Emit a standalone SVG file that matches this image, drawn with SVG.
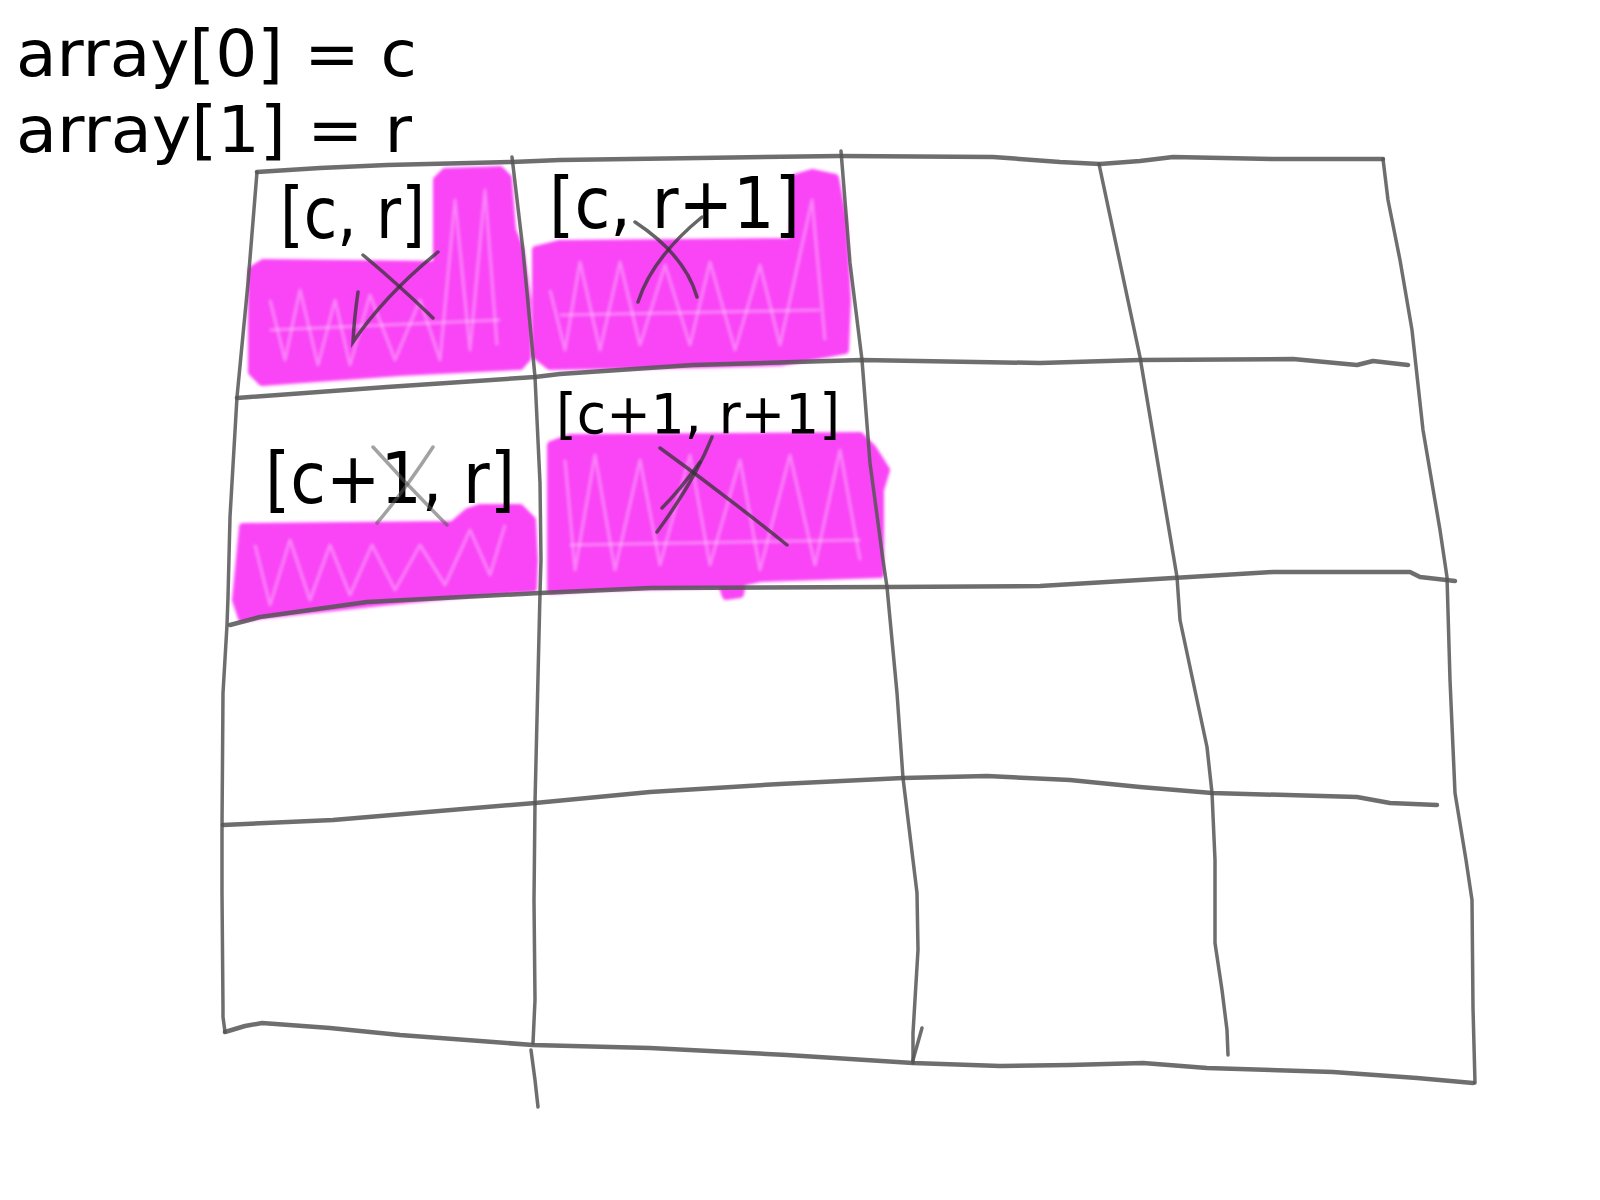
<svg xmlns="http://www.w3.org/2000/svg" width="1600" height="1200" viewBox="0 0 1600 1200">
<defs>
<filter id="soft" x="-5%" y="-5%" width="110%" height="110%"><feGaussianBlur stdDeviation="1.6"/></filter>
</defs>
<style>
.pink{fill:#f944f6;stroke:#f944f6;stroke-width:8;stroke-linejoin:round}
.streak{fill:none;stroke:#ffffff;stroke-width:2.5;opacity:0.35;stroke-linejoin:round}
.h{fill:none;stroke:#555;stroke-opacity:0.85;stroke-width:4.5;stroke-linecap:round;stroke-linejoin:round}
.v{fill:none;stroke:#555;stroke-opacity:0.85;stroke-width:3.5;stroke-linecap:round;stroke-linejoin:round}
.x{fill:none;stroke:#333;stroke-opacity:0.75;stroke-width:3.5;stroke-linecap:round}
.xl{fill:none;stroke:#555;stroke-opacity:0.55;stroke-width:3.5;stroke-linecap:round}
.t{font-family:"DejaVu Sans Condensed","DejaVu Sans","Liberation Sans",sans-serif;fill:#000}
</style>
<rect width="1600" height="1200" fill="#fff"/>
<g id="header">
<text class="t" x="16" y="76" font-size="64" textLength="401" lengthAdjust="spacingAndGlyphs">array[0] = c</text>
<text class="t" x="16" y="152" font-size="64" textLength="396" lengthAdjust="spacingAndGlyphs">array[1] = r</text>
</g>
<g id="fills" filter="url(#soft)">
<polygon class="pink" points="252,270 263,263 437,265 437,180 445,172 500,170 508,178 512,230 520,250 527,300 527,358 520,366 400,372 262,382 252,372"/>
<polygon class="pink" points="536,250 560,244 793,242 795,178 812,173 835,178 843,220 847,300 845,350 780,362 700,364 550,366 536,355"/>
<polygon class="pink" points="243,527 453,525 468,512 480,508 520,508 532,520 534,560 533,588 480,592 380,602 260,615 242,618 236,600"/>
<polygon class="pink" points="551,445 570,438 860,436 872,448 886,470 880,490 880,574 760,578 742,582 740,594 726,596 722,584 600,587 551,590"/>
<polyline class="streak" points="270,300 285,360 300,290 318,365 335,300 350,365 370,295 395,360 420,300 440,360 455,200 470,350 485,190 497,345"/>
<polyline class="streak" points="550,290 565,350 580,262 600,350 620,262 640,345 665,265 690,345 710,262 735,350 760,265 780,345 812,200 825,340"/>
<polyline class="streak" points="255,545 270,605 290,540 310,600 330,545 350,595 372,545 395,590 420,545 445,585 470,530 490,575 505,525"/>
<polyline class="streak" points="565,460 575,570 595,455 615,570 640,460 660,565 690,455 710,565 740,460 760,570 790,455 815,565 840,450 860,560"/>
<polyline class="streak" points="270,330 500,320"/>
<polyline class="streak" points="560,315 820,310"/>
<polyline class="streak" points="570,545 860,540"/>
</g>
<g id="grid">
<polyline class="h" points="257,172 320,168 387,165 512,162 560,160 700,158 840,156 993,157 1060,162 1100,164 1140,161 1173,157 1273,159 1383,159"/>
<polyline class="h" points="237,398 387,387 535,377 560,374 693,365 862,360 1040,363 1140,360 1293,359 1357,365 1373,361 1408,365"/>
<polyline class="h" points="230,625 260,617 367,602 540,593 650,588 887,587 1040,586 1173,578 1273,572 1410,572 1420,577 1455,581"/>
<polyline class="h" points="223,825 333,820 535,803 650,792 780,784 903,778 987,776 1070,780 1140,787 1212,793 1357,797 1390,803 1437,805"/>
<polyline class="h" points="225,1032 245,1026 262,1023 330,1028 400,1035 533,1045 650,1048 787,1055 913,1063 1000,1066 1070,1065 1143,1063 1207,1068 1333,1072 1417,1078 1473,1083"/>
<polyline class="v" points="257,172 248,283 237,397 230,517 228,597 227,625 223,693 222,827 222,893 223,1008 223,1017 225,1032"/>
<polyline class="v" points="512,157 523,250 535,377 540,483 541,560 540,593 535,803 534,900 535,1000 533,1043"/>
<polyline class="v" points="531,1050 535,1080 538,1107"/>
<polyline class="v" points="841,151 850,263 862,360 870,463 883,560 887,587 897,693 903,778 917,893 918,950 913,1033 913,1063"/>
<polyline class="v" points="922,1028 913,1060"/>
<polyline class="v" points="1099,164 1140,357 1177,577 1180,620 1207,747 1212,793 1215,860 1215,943 1222,990 1227,1030 1228,1055"/>
<polyline class="v" points="1383,159 1388,200 1400,260 1412,330 1423,430 1440,530 1447,577 1450,680 1455,793 1466,860 1472,900 1473,1008 1475,1083"/>
</g>
<g id="cell-c-r">
<text class="t" x="280" y="238" font-size="72" textLength="145" lengthAdjust="spacingAndGlyphs">[c, r]</text>
<path class="x" d="M363,255 Q400,286 433,318"/>
<path class="x" d="M358,292 Q354,320 353,342 Q385,295 438,252"/>
</g>
<g id="cell-c-r1">
<text class="t" x="549" y="228" font-size="72" textLength="251" lengthAdjust="spacingAndGlyphs">[c, r+1]</text>
<path class="x" d="M635,222 Q685,255 697,297"/>
<path class="x" d="M638,302 Q652,258 702,217"/>
</g>
<g id="cell-c1-r">
<text class="t" x="265" y="503" font-size="72" textLength="250" lengthAdjust="spacingAndGlyphs">[c+1, r]</text>
<path class="xl" d="M373,447 Q410,488 447,525"/>
<path class="xl" d="M433,447 Q405,490 377,523"/>
</g>
<g id="cell-c1-r1">
<text class="t" x="556" y="433" font-size="56" textLength="284" lengthAdjust="spacingAndGlyphs">[c+1, r+1]</text>
<path class="x" d="M660,448 Q725,495 787,545"/>
<path class="x" d="M712,437 Q695,480 657,532"/>
<path class="x" d="M700,462 Q680,490 662,508"/>
</g>
</svg>
